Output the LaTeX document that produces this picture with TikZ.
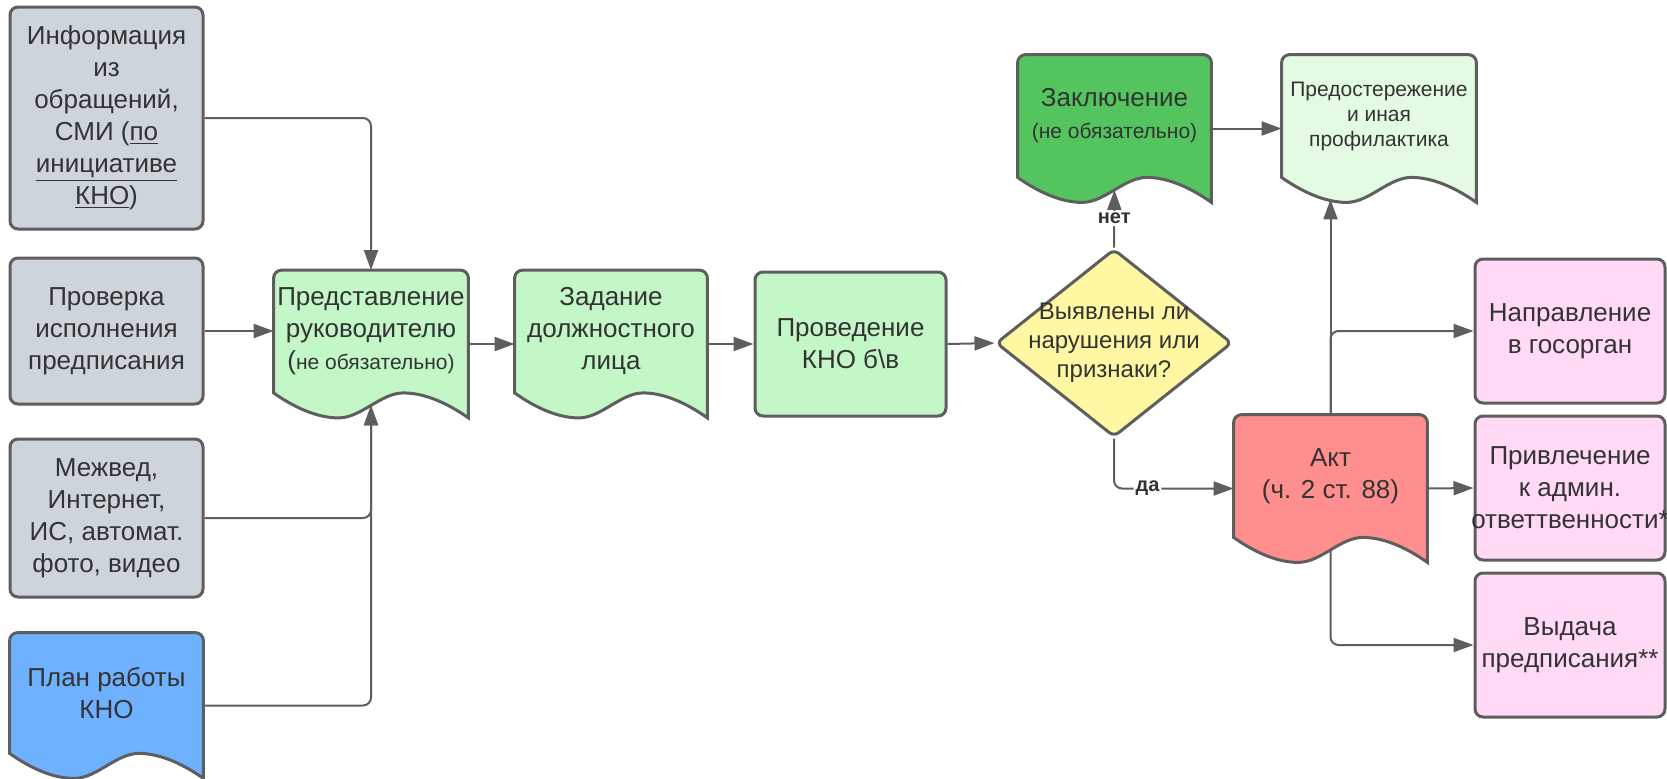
\documentclass[tikz,border=0pt]{standalone}
\usepackage{fontspec}
\setmainfont{Liberation Sans}
\usetikzlibrary{arrows.meta,backgrounds,calc,shapes.geometric}
\definecolor{lnc}{HTML}{5E5E5E}
\definecolor{txt}{HTML}{333333}
\definecolor{grayfill}{HTML}{CED4DB}
\definecolor{lgreen}{HTML}{C3F7C8}
\definecolor{dgreen}{HTML}{54C45E}
\definecolor{pgreen}{HTML}{E3FAE3}
\definecolor{bluefill}{HTML}{6DB1FF}
\definecolor{yellowfill}{HTML}{FFF7A1}
\definecolor{redfill}{HTML}{FF8F8F}
\definecolor{pinkfill}{HTML}{FFD9F5}
\newcommand{\maintxt}{\fontsize{13pt}{16pt}\selectfont}
\newcommand{\smalltxt}{\fontsize{10.5pt}{12.5pt}\selectfont}
\newcommand{\diatxt}{\fontsize{12pt}{14.5pt}\selectfont}
\newdimen\wv \wv=6.25pt
% document outline under a node: flat top, wavy bottom
\newcommand{\docshape}[2]{%
  \draw[lnc, line width=1.5pt, fill=#2] let \p1=(#1.south west), \p2=(#1.north east), \n1={\x2-\x1} in
    (\p1) [rounded corners=4pt] -- (\x1,\y2) -- (\x2,\y2) [sharp corners] -- (\x2,{\y1-2*\wv})
    .. controls ({\x1+0.9*\n1},{\y1-0.9*\wv}) and ({\x1+0.78*\n1},\y1) .. ({\x1+0.667*\n1},\y1)
    .. controls ({\x1+0.55*\n1},\y1) and ({\x1+0.45*\n1},{\y1-2*\wv}) .. ({\x1+0.333*\n1},{\y1-2*\wv})
    .. controls ({\x1+0.22*\n1},{\y1-2*\wv}) and ({\x1+0.1*\n1},{\y1-1.1*\wv}) .. (\p1) -- cycle;}

\begin{document}
\begin{tikzpicture}[x=0.5pt, y=-0.5pt,
    box/.style={draw=lnc, line width=1.5pt, rounded corners=4pt, text=txt, align=center, font=\maintxt, minimum width=96.5pt, inner sep=1pt},
    doc/.style={text=txt, align=center, font=\maintxt, minimum width=97pt, minimum height=61pt, inner sep=0pt},
    conn/.style={draw=lnc, line width=1pt, rounded corners=4pt, -{Triangle[length=10pt,width=7pt]}},
    lbl/.style={fill=white, text=txt, font=\bfseries\fontsize{10pt}{12pt}\selectfont, inner sep=1pt}]
    \useasboundingbox (0,0) rectangle (1667,778);

    % sources
    \node[box, fill=grayfill, minimum height=111pt] (info) at (106.5,118) {Информация\\из\\обращений,\\СМИ (\underline{по}\\\underline{инициативе}\\\underline{КНО})};
    \node[box, fill=grayfill, minimum height=73pt] (prov) at (106.5,331) {Проверка\\исполнения\\предписания};
    \node[box, fill=grayfill, minimum height=79pt] (mezh) at (106.5,518) {Межвед,\\Интернет,\\ИС, автомат.\\фото, видео};
    \node[doc, minimum width=96.5pt, minimum height=60pt] (plan) at (106.5,693) {План работы\\КНО};

    % main line
    \node[doc] (pred) at (371,331.5) {Представление\\руководителю\\({\smalltxt не обязательно)}};
    \node[doc, minimum width=96pt] (zad) at (611,331.5) {Задание\\должностного\\лица};
    \node[box, fill=lgreen, minimum width=95.5pt, minimum height=72pt] (kno) at (850.5,344) {Проведение\\КНО б\textbackslash в};
    \node[diamond, draw=lnc, line width=1.5pt, fill=yellowfill, rounded corners=3pt, minimum width=118pt, minimum height=94pt, inner sep=0pt,
      label={[text=txt, align=center, font=\diatxt]center:Выявлены ли\\нарушения или\\признаки?}] (dia) at (1114,343) {};

    % results
    \node[doc, minimum width=96.5pt] (zakl) at (1114.5,116) {Заключение\\{\smalltxt(не обязательно)}};
    \node[doc, font=\smalltxt] (prof) at (1379,116) {Предостережение\\и иная\\профилактика};
    \node[doc, minimum width=96.5pt] (akt) at (1330.5,476) {Акт\\(ч. 2 ст. 88)};
    \node[box, fill=pinkfill, minimum width=95pt, minimum height=72pt] (napr) at (1570,331) {Направление\\в госорган};
    \node[box, fill=pinkfill, minimum width=95pt, minimum height=72pt] (privl) at (1570,488) {Привлечение\\к админ.\\\makebox[0pt]{ответтвенности*}};
    \node[box, fill=pinkfill, minimum width=95pt, minimum height=72pt] (vyd) at (1570,645) {Выдача\\предписания**};

    \begin{scope}[on background layer]
      \fill[white] (0,0) rectangle (1667,778);
      \docshape{plan}{bluefill}
      \docshape{pred}{lgreen}
      \docshape{zad}{lgreen}
      \docshape{zakl}{dgreen}
      \docshape{prof}{pgreen}
      \docshape{akt}{redfill}
    \end{scope}

    \draw[conn] (info.east) -| (pred.north);
    \draw[conn] (prov.east) -- (prov.east -| pred.west);
    \draw[conn] (mezh.east) -| ([yshift=-\wv]pred.south);
    \draw[conn] ([yshift=-\wv]plan.east) -| ([yshift=-\wv]pred.south);
    \draw[conn] ([yshift=-\wv]pred.east) -- ([yshift=-\wv]zad.west);
    \draw[conn] ([yshift=-\wv]zad.east) -- (kno.west);
    \draw[conn] (kno.east) -- (dia.west);
    \draw[conn] (dia.north) -- ([yshift=-\wv]zakl.south) node[lbl, midway] {нет};
    \draw[conn] (dia.south) |- ([yshift=-\wv]akt.west) node[lbl, pos=0.64] {да};
    \draw[conn] ([yshift=-\wv]zakl.east) -- ([yshift=-\wv]prof.west);
    \draw[conn] (akt.north) -- ([yshift=-11pt]akt.north |- prof.south);
    \draw[conn] (akt.north) |- (napr.west);
    \draw[conn] ([yshift=-\wv]akt.east) -- (privl.west);
    \draw[conn] ([yshift=-\wv]akt.south) |- (vyd.west);
\end{tikzpicture}
\end{document}
